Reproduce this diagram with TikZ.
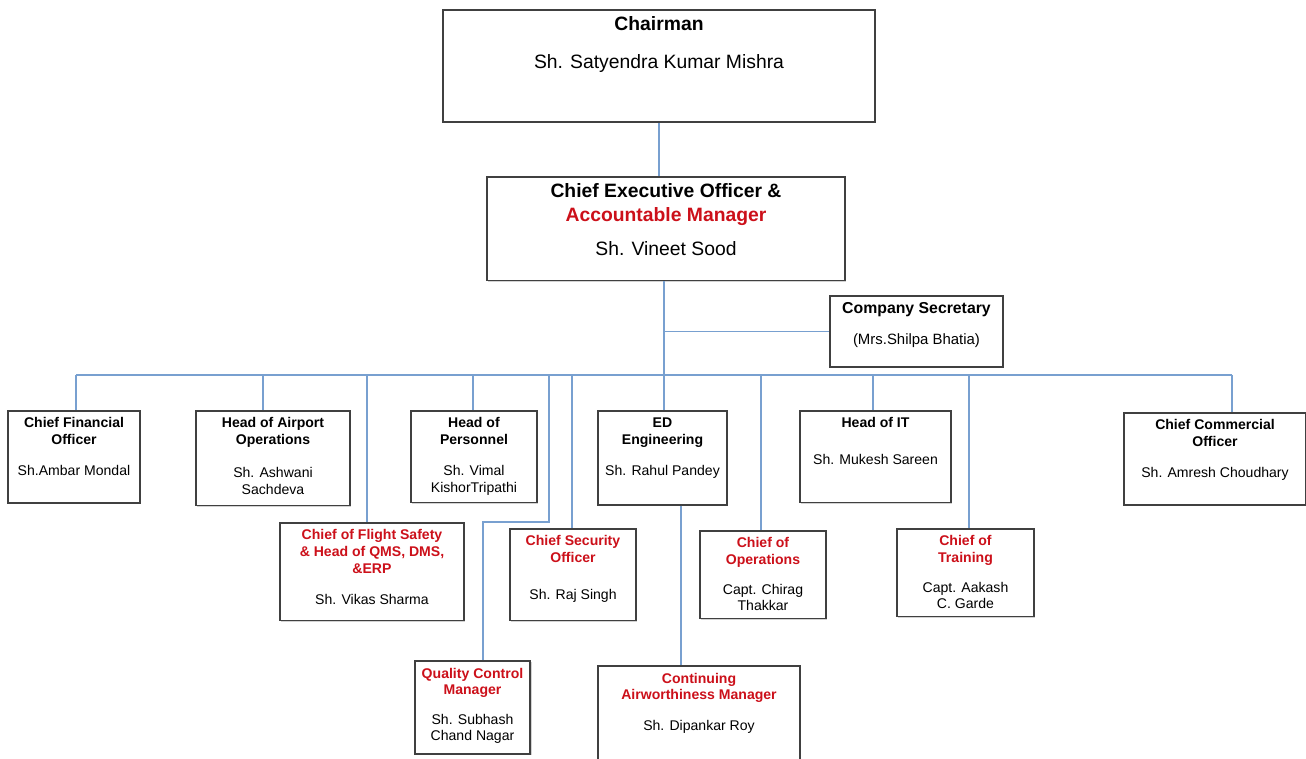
\documentclass[tikz,border=0pt]{standalone}
\usepackage{fontspec}
\setmainfont{Liberation Sans}
\usepackage{tikz}
\usetikzlibrary{positioning,calc,shadows}
\definecolor{linkblue}{RGB}{120,160,208}
\definecolor{titlered}{RGB}{204,16,26}
\newcommand\redt[1]{\textcolor{titlered}{\textbf{#1}}}
\tikzset{
  box/.style={draw=black!75, line width=0.9pt, fill=white, align=center,
              anchor=north, inner sep=4pt, font=\fontsize{8}{9.6}\selectfont,
              drop shadow={shadow xshift=0.7pt, shadow yshift=-0.7pt, fill=black!35}},
  topbox/.style={box, font=\fontsize{11}{13.6}\selectfont},
  link/.style={draw=linkblue, line width=0.8pt},
}

\begin{document}
\begin{tikzpicture}[x=0.02cm, y=-0.02cm]
  \useasboundingbox (0,0) rectangle (1306,759);

  % top of the chart
  \node[topbox, minimum width=8.64cm, text depth=26.4pt] (chair) at (659,9)
       {\textbf{Chairman}\\[8pt] Sh. Satyendra Kumar Mishra};
  \node[topbox, minimum width=7.16cm, text depth=10.1pt] (ceo) at (666,176)
       {\textbf{Chief Executive Officer \&}\\ \redt{Accountable Manager}\\[5.7pt] Sh. Vineet Sood};
  \node[box, minimum width=3.46cm, text depth=8.6pt, font=\fontsize{9}{10.8}\selectfont] (sec) at (916.5,295)
       {\textbf{Company Secretary}\\[6.8pt] {\fontsize{8.5}{10}\selectfont (Mrs.Shilpa Bhatia)}};

  % first row
  \node[box, minimum width=2.64cm, text depth=11.6pt] (cfo) at (74,410)
       {\textbf{Chief Financial}\\ \textbf{Officer}\\[8pt] Sh.Ambar Mondal};
  \node[box, minimum width=3.08cm, text depth=2.2pt] (apo) at (273,410)
       {\textbf{Head of Airport}\\ \textbf{Operations}\\[9pt] Sh. Ashwani\\ Sachdeva};
  \node[box, minimum width=2.52cm, text depth=1.5pt] (per) at (474,410)
       {\textbf{Head of}\\ \textbf{Personnel}\\[8pt] Sh. Vimal\\ KishorTripathi};
  \node[box, minimum width=2.58cm, text depth=12.8pt] (ed) at (662.5,410)
       {\textbf{ED}\\ \textbf{Engineering}\\[8pt] Sh. Rahul Pandey};
  \node[box, minimum width=3.02cm, text depth=17.7pt] (it) at (875.5,410)
       {\textbf{Head of IT}\\[11pt] Sh. Mukesh Sareen};
  \node[box, minimum width=3.64cm, text depth=11.6pt] (cco) at (1215,412)
       {\textbf{Chief Commercial}\\ \textbf{Officer}\\[8pt] Sh. Amresh Choudhary};

  % second row
  \node[box, minimum width=3.68cm, text depth=4.9pt] (fs) at (372,522)
       {\redt{Chief of Flight Safety}\\ \redt{\& Head of QMS, DMS,}\\ \redt{\&ERP}\\[8pt] Sh. Vikas Sharma};
  \node[box, minimum width=2.52cm, text depth=8.1pt] (cso) at (573,528)
       {\redt{Chief Security}\\ \redt{Officer}\\[11pt] Sh. Raj Singh};
  \node[box, minimum width=2.52cm, text depth=0.3pt] (ops) at (763,530)
       {\redt{Chief of}\\ \redt{Operations}\\[7pt] Capt. Chirag\\ Thakkar};
  \node[box, minimum width=2.74cm, text depth=0.3pt] (trn) at (965.5,528)
       {\redt{Chief of}\\ \redt{Training}\\[7pt] Capt. Aakash\\ C. Garde};

  % third row
  \node[box, minimum width=2.30cm, text depth=3.6pt] (qcm) at (472.5,660)
       {\redt{Quality Control}\\ \redt{Manager}\\[7pt] Sh. Subhash\\ Chand Nagar};
  \node[box, minimum width=4.04cm, text depth=18.4pt] (cam) at (699,665)
       {\redt{Continuing}\\ \redt{Airworthiness Manager}\\[8pt] Sh. Dipankar Roy};

  % connectors
  \draw[link] (chair.south) -- (chair.south |- ceo.north);
  \foreach \b/\n in {76/cfo, 263/apo, 367/fs, 473/per, 572/cso, 664/ed,
                     761/ops, 873/it, 969/trn, 1232/cco} {
    \coordinate (t-\n) at (\b,375);
    \draw[link] (t-\n) -- (t-\n |- \n.north);
  }
  \draw[link] (t-cfo) -- (t-cco);
  \draw[link] (ceo.south -| t-ed) -- (t-ed);
  \draw[link] (t-ed |- sec.west) -- (sec.west);

  \coordinate (t-qcm) at (549,375);
  \coordinate (k-qcm) at (483,522);
  \draw[link] (t-qcm) |- (k-qcm) -- (k-qcm |- qcm.north);

  \coordinate (k-cam) at (681,600);
  \draw[link] (ed.south -| k-cam) -- (k-cam |- cam.north);
\end{tikzpicture}
\end{document}
